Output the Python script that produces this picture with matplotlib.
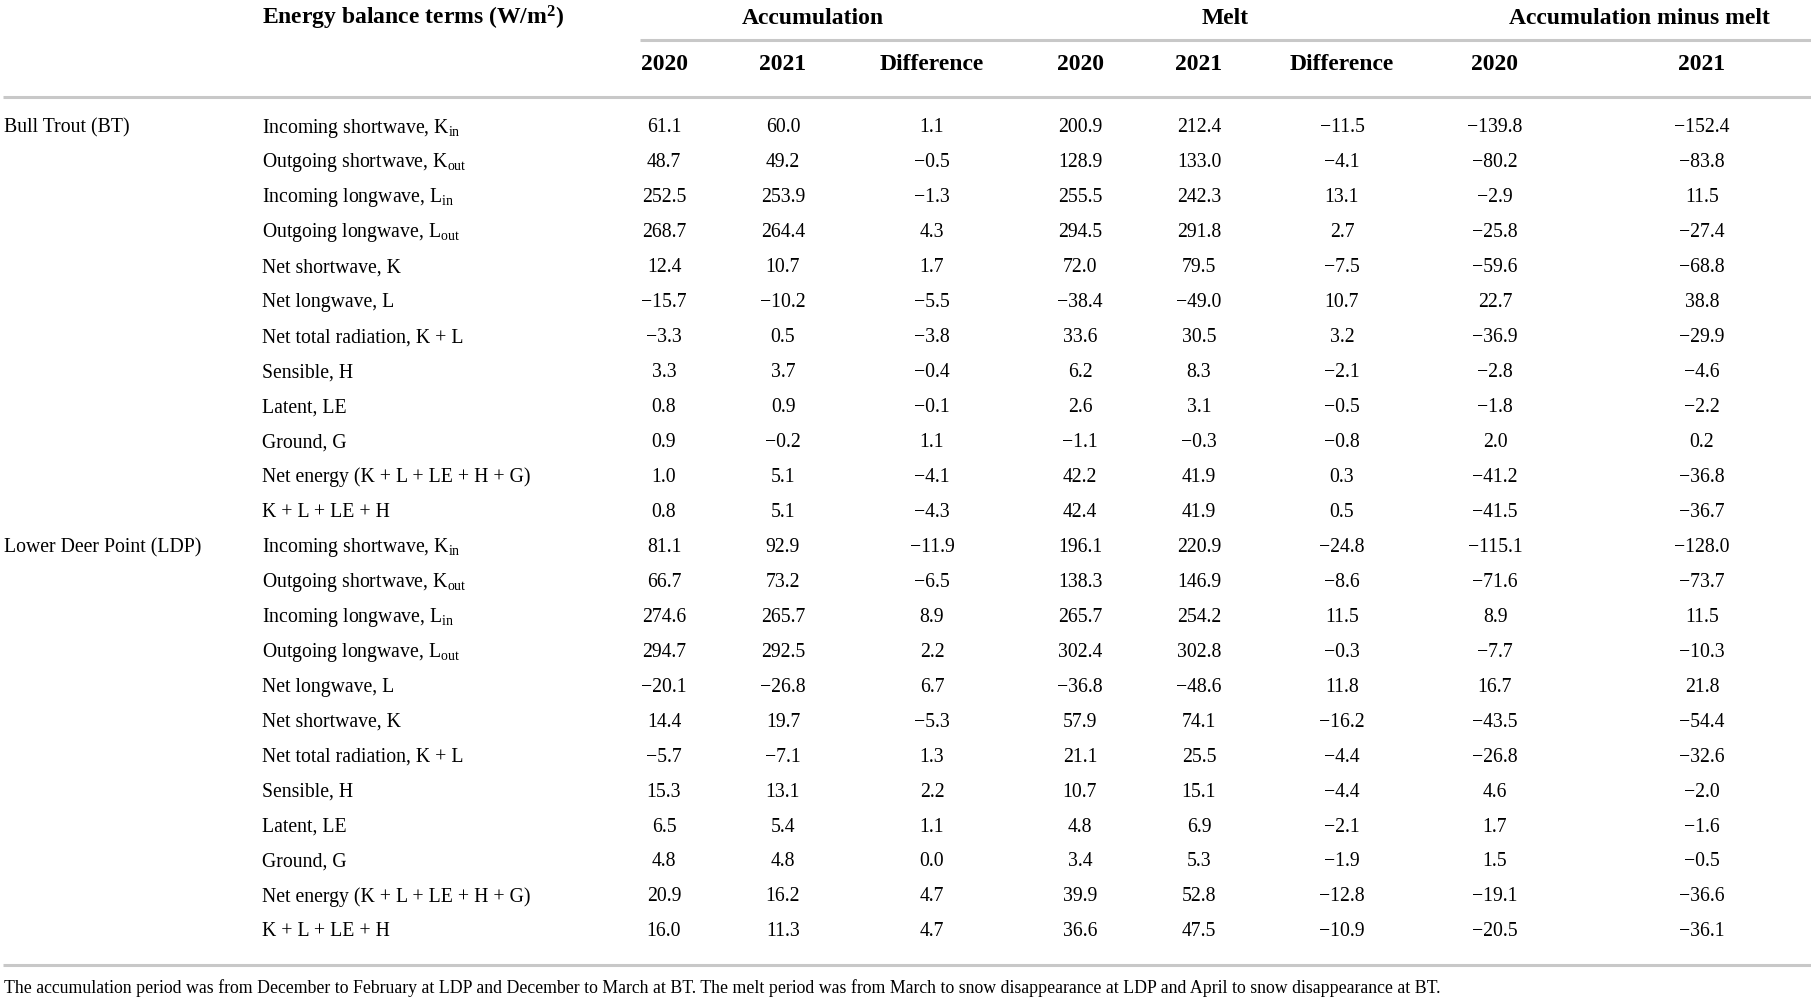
import matplotlib
matplotlib.use("Agg")
import matplotlib.pyplot as plt

plt.rcParams['font.family'] = ['Liberation Serif', 'DejaVu Serif']
plt.rcParams['mathtext.fontset'] = 'custom'
plt.rcParams['mathtext.rm'] = 'Liberation Serif'
plt.rcParams['mathtext.it'] = 'Liberation Serif:italic'
plt.rcParams['mathtext.bf'] = 'Liberation Serif:bold'

sites = ["Bull Trout (BT)", "Lower Deer Point (LDP)"]
terms_bt = [r"Incoming shortwave, K$_{\mathrm{in}}$", r"Outgoing shortwave, K$_{\mathrm{out}}$",
            r"Incoming longwave, L$_{\mathrm{in}}$", r"Outgoing longwave, L$_{\mathrm{out}}$",
            "Net shortwave, K", "Net longwave, L", "Net total radiation, K + L",
            "Sensible, H", "Latent, LE", "Ground, G",
            "Net energy (K + L + LE + H + G)", "K + L + LE + H"]
terms_ldp = [r"Incoming shortwave, K$_{\mathrm{in}}$", r"Outgoing shortwave, K$_{\mathrm{out}}$",
             r"Incoming longwave, L$_{\mathrm{in}}$", r"Outgoing longwave, L$_{\mathrm{out}}$",
             "Net longwave, L", "Net shortwave, K", "Net total radiation, K + L",
             "Sensible, H", "Latent, LE", "Ground, G",
             "Net energy (K + L + LE + H + G)", "K + L + LE + H"]

acc_2020 = [61.1, 48.7, 252.5, 268.7, 12.4, -15.7, -3.3, 3.3, 0.8, 0.9, 1.0, 0.8,
            81.1, 66.7, 274.6, 294.7, -20.1, 14.4, -5.7, 15.3, 6.5, 4.8, 20.9, 16.0]
acc_2021 = [60.0, 49.2, 253.9, 264.4, 10.7, -10.2, 0.5, 3.7, 0.9, -0.2, 5.1, 5.1,
            92.9, 73.2, 265.7, 292.5, -26.8, 19.7, -7.1, 13.1, 5.4, 4.8, 16.2, 11.3]
acc_diff = [1.1, -0.5, -1.3, 4.3, 1.7, -5.5, -3.8, -0.4, -0.1, 1.1, -4.1, -4.3,
            -11.9, -6.5, 8.9, 2.2, 6.7, -5.3, 1.3, 2.2, 1.1, 0.0, 4.7, 4.7]
melt_2020 = [200.9, 128.9, 255.5, 294.5, 72.0, -38.4, 33.6, 6.2, 2.6, -1.1, 42.2, 42.4,
             196.1, 138.3, 265.7, 302.4, -36.8, 57.9, 21.1, 10.7, 4.8, 3.4, 39.9, 36.6]
melt_2021 = [212.4, 133.0, 242.3, 291.8, 79.5, -49.0, 30.5, 8.3, 3.1, -0.3, 41.9, 41.9,
             220.9, 146.9, 254.2, 302.8, -48.6, 74.1, 25.5, 15.1, 6.9, 5.3, 52.8, 47.5]
melt_diff = [-11.5, -4.1, 13.1, 2.7, -7.5, 10.7, 3.2, -2.1, -0.5, -0.8, 0.3, 0.5,
             -24.8, -8.6, 11.5, -0.3, 11.8, -16.2, -4.4, -4.4, -2.1, -1.9, -12.8, -10.9]
amm_2020 = [-139.8, -80.2, -2.9, -25.8, -59.6, 22.7, -36.9, -2.8, -1.8, 2.0, -41.2, -41.5,
            -115.1, -71.6, 8.9, -7.7, 16.7, -43.5, -26.8, 4.6, 1.7, 1.5, -19.1, -20.5]
amm_2021 = [-152.4, -83.8, 11.5, -27.4, -68.8, 38.8, -29.9, -4.6, -2.2, 0.2, -36.8, -36.7,
            -128.0, -73.7, 11.5, -10.3, 21.8, -54.4, -32.6, -2.0, -1.6, -0.5, -36.6, -36.1]

groups = ["Accumulation", "Melt", "Accumulation minus melt"]
subheads = ["2020", "2021", "Difference", "2020", "2021", "Difference", "2020", "2021"]
header_terms = r"Energy balance terms (W/m$^{\mathbf{2}}$)"
footnote = ("The accumulation period was from December to February at LDP and December to March at BT. "
            "The melt period was from March to snow disappearance at LDP and April to snow disappearance at BT.")

W, H = 1811, 997
fig = plt.figure(figsize=(W / 100, H / 100), dpi=100)
ax = fig.add_axes([0, 0, 1, 1])
ax.set_xlim(0, W)
ax.set_ylim(H, 0)
ax.axis('off')

fs = 14.2
fs_head = 17.0
col_x = [664, 783, 932, 1080, 1199, 1342, 1495, 1702]
site_x = 4
term_x = 262
group_x = [813, 1225, 1639]
y_h1 = 18
y_gline = 40
y_h2 = 65
y_line1 = 97
y_first = 128
row_step = 34.95
y_line2 = 965
y_foot = 988
line_col = '#c8c8c8'

ax.text(term_x, y_h1, header_terms, fontsize=fs_head, fontweight='bold', ha='left', va='center')
for gx, g in zip(group_x, groups):
    ax.text(gx, y_h1, g, fontsize=fs_head, fontweight='bold', ha='center', va='center')
ax.plot([640, W], [y_gline, y_gline], color=line_col, lw=2.2, solid_capstyle='butt')
for cx, s in zip(col_x, subheads):
    ax.text(cx, y_h2, s, fontsize=fs_head, fontweight='bold', ha='center', va='center')
ax.plot([3, W], [y_line1, y_line1], color=line_col, lw=2.2, solid_capstyle='butt')

terms = terms_bt + terms_ldp
cols = [acc_2020, acc_2021, acc_diff, melt_2020, melt_2021, melt_diff, amm_2020, amm_2021]


def fmt(v):
    s = f"{v:.1f}"
    return s.replace('-', '\u2212')


for i, t in enumerate(terms):
    y = y_first + i * row_step
    if i == 0:
        ax.text(site_x, y, sites[0], fontsize=fs, ha='left', va='center')
    if i == 12:
        ax.text(site_x, y, sites[1], fontsize=fs, ha='left', va='center')
    ax.text(term_x, y, t, fontsize=fs, ha='left', va='center')
    for cx, c in zip(col_x, cols):
        ax.text(cx, y, fmt(c[i]), fontsize=fs, ha='center', va='center')

ax.plot([3, W], [y_line2, y_line2], color=line_col, lw=2.2, solid_capstyle='butt')
ax.text(site_x, y_foot, footnote, fontsize=12.8, ha='left', va='center')

fig.savefig("out.png", dpi=100)
